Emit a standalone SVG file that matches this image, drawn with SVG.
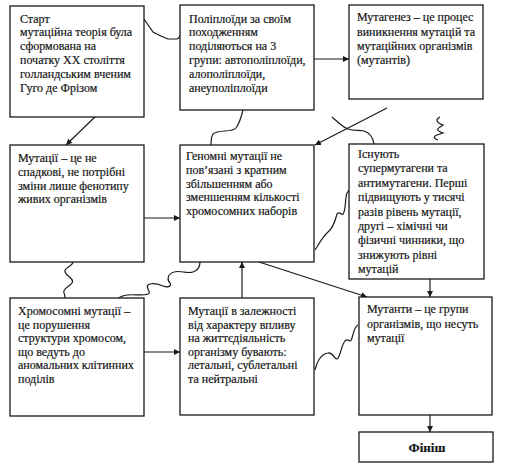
<svg xmlns="http://www.w3.org/2000/svg" width="506" height="470" viewBox="0 0 506 470">
<style>
.box{fill:#fff;stroke:#1a1a1a;stroke-width:1.3}
.t{font-family:"Liberation Serif","Times New Roman","DejaVu Serif",serif;font-size:12px;fill:#151515;stroke:#151515;stroke-width:0.2}
.b{font-weight:bold;text-anchor:middle;font-size:13px}
.c{fill:none;stroke:#1a1a1a;stroke-width:1.2}
</style>
<defs>
<marker id="ah" viewBox="0 0 10 10" refX="10" refY="5" markerWidth="6" markerHeight="6" orient="auto" markerUnits="userSpaceOnUse">
<path d="M0,0 L10,5 L0,10 z" fill="#1a1a1a"/>
</marker>
</defs>
<rect width="506" height="470" fill="#fff"/>
<g id="connectors">
<path class="c" d="M144,19 L153,32 C158,35 163,37 168,39 L177,39 C179,38 180,36 180,35"/>
<line class="c" x1="99" y1="113" x2="66" y2="145" marker-end="url(#ah)"/>
<line class="c" x1="314" y1="59" x2="349" y2="59" marker-end="url(#ah)"/>
<line class="c" x1="387" y1="108" x2="315" y2="145" marker-end="url(#ah)"/>
<path class="c" d="M243,110 C241,118 239,124 236,128 C232,133 218,129 213,134 C211,137 211,141 211,145"/>
<path class="c" d="M332,117 C338,122 342,127 348,129 C354,131 358,130 364,131 C371,133 373,138 374,144"/>
<path class="c" d="M440,117 C436,119 435,122 443,125 C438,128 434,130 443,133 C436,135 430,137 438,140"/>
<line class="c" x1="144" y1="218" x2="180" y2="218" marker-end="url(#ah)"/>
<path class="c" d="M73,262 C73,266 63,268 65,272 C67,277 75,279 72,283 C69,287 62,289 64,293 C65,295 65,297 65,298"/>
<path class="c" d="M200,262 C200,266 199,270 193,272 C187,274 180,270 174,272 C167,274 167,280 170,283 C172,286 168,288 163,286 C158,284 152,282 148,285 C145,288 152,292 148,294 C143,296 134,294 127,295 C122,296 119,297 117,299 L123,302"/>
<line class="c" x1="242" y1="298" x2="242" y2="262" marker-end="url(#ah)"/>
<line class="c" x1="144" y1="352" x2="180" y2="352" marker-end="url(#ah)"/>
<line class="c" x1="259" y1="262" x2="367" y2="297" marker-end="url(#ah)"/>
<line class="c" x1="430" y1="279" x2="430" y2="297" marker-end="url(#ah)"/>
<path class="c" d="M315,250 C319,244 323,236 328,232 C333,228 335,222 337,214 C339,210 343,218 344,212 C346,206 345,198 347,193 C348,191 349,190 350,190"/>
<path class="c" d="M315,370 C317,362 321,354 328,353 C334,352 335,362 338,358 C341,354 341,346 345,341 C349,337 350,345 352,338 C354,332 354,327 358,325"/>
<line class="c" x1="430" y1="415" x2="430" y2="432" marker-end="url(#ah)"/>
</g>
<g id="n1">
<rect class="box" x="10" y="6" width="134" height="111"/>
<text class="t"><tspan x="20" y="22.5">Старт</tspan><tspan x="20" y="36.3">мутаційна теорія була</tspan><tspan x="20" y="50.1">сформована на</tspan><tspan x="20" y="63.9">початку XX століття</tspan><tspan x="20" y="77.7">голландським вченим</tspan><tspan x="20" y="91.5">Гуго де Фрізом</tspan></text>
</g>
<g id="n2">
<rect class="box" x="180" y="5" width="134" height="105"/>
<text class="t"><tspan x="189" y="22.5">Поліплоїди за своїм</tspan><tspan x="189" y="36.3">походженням</tspan><tspan x="189" y="50.1">поділяються на 3</tspan><tspan x="189" y="63.9">групи: автополіплоїди,</tspan><tspan x="189" y="77.7">алополіплоїди,</tspan><tspan x="189" y="91.5">анеуполіплоїди</tspan></text>
</g>
<g id="n3">
<rect class="box" x="349" y="5" width="134" height="94"/>
<text class="t"><tspan x="357" y="21">Мутагенез – це процес</tspan><tspan x="357" y="35.5">виникнення мутацій та</tspan><tspan x="357" y="50">мутаційних організмів</tspan><tspan x="357" y="64">(мутантів)</tspan></text>
</g>
<g id="n4">
<rect class="box" x="10" y="145" width="134" height="117"/>
<text class="t"><tspan x="18" y="162">Мутації – це не</tspan><tspan x="18" y="176">спадкові, не потрібні</tspan><tspan x="18" y="189.5">зміни лише фенотипу</tspan><tspan x="18" y="203">живих організмів</tspan></text>
</g>
<g id="n5">
<rect class="box" x="180" y="145" width="134" height="117"/>
<text class="t"><tspan x="186" y="160">Геномні мутації не</tspan><tspan x="186" y="173.8">пов’язані з кратним</tspan><tspan x="186" y="187.5">збільшенням або</tspan><tspan x="186" y="201.2">зменшенням кількості</tspan><tspan x="186" y="215">хромосомних наборів</tspan></text>
</g>
<g id="n6">
<rect class="box" x="349" y="144" width="135" height="135"/>
<text class="t"><tspan x="358" y="158">Існують</tspan><tspan x="358" y="172.4">супермутагени та</tspan><tspan x="358" y="186.8">антимутагени. Перші</tspan><tspan x="358" y="201.2">підвищують у тисячі</tspan><tspan x="358" y="215.6">разів рівень мутації,</tspan><tspan x="358" y="230">другі – хімічні чи</tspan><tspan x="358" y="244.4">фізичні чинники, що</tspan><tspan x="358" y="258.8">знижують рівні</tspan><tspan x="358" y="273">мутацій</tspan></text>
</g>
<g id="n7">
<rect class="box" x="10" y="298" width="134" height="118"/>
<text class="t"><tspan x="18" y="315">Хромосомні мутації –</tspan><tspan x="18" y="328.6">це порушення</tspan><tspan x="18" y="342.2">структури хромосом,</tspan><tspan x="18" y="355.8">що ведуть до</tspan><tspan x="18" y="369.4">аномальних клітинних</tspan><tspan x="18" y="383">поділів</tspan></text>
</g>
<g id="n8">
<rect class="box" x="180" y="298" width="134" height="117"/>
<text class="t"><tspan x="188" y="315">Мутації в залежності</tspan><tspan x="188" y="328.6">від характеру впливу</tspan><tspan x="188" y="342.2">на життєдіяльність</tspan><tspan x="188" y="355.8">організму бувають:</tspan><tspan x="188" y="369.4">летальні, сублетальні</tspan><tspan x="188" y="383">та нейтральні</tspan></text>
</g>
<g id="n9">
<rect class="box" x="359" y="297" width="133" height="118"/>
<text class="t"><tspan x="367" y="313">Мутанти – це групи</tspan><tspan x="367" y="327.5">організмів, що несуть</tspan><tspan x="367" y="342">мутації</tspan></text>
</g>
<g id="n10">
<rect class="box" x="359" y="432" width="134" height="30"/>
<text class="t b" x="427" y="452">Фініш</text>
</g>
</svg>
